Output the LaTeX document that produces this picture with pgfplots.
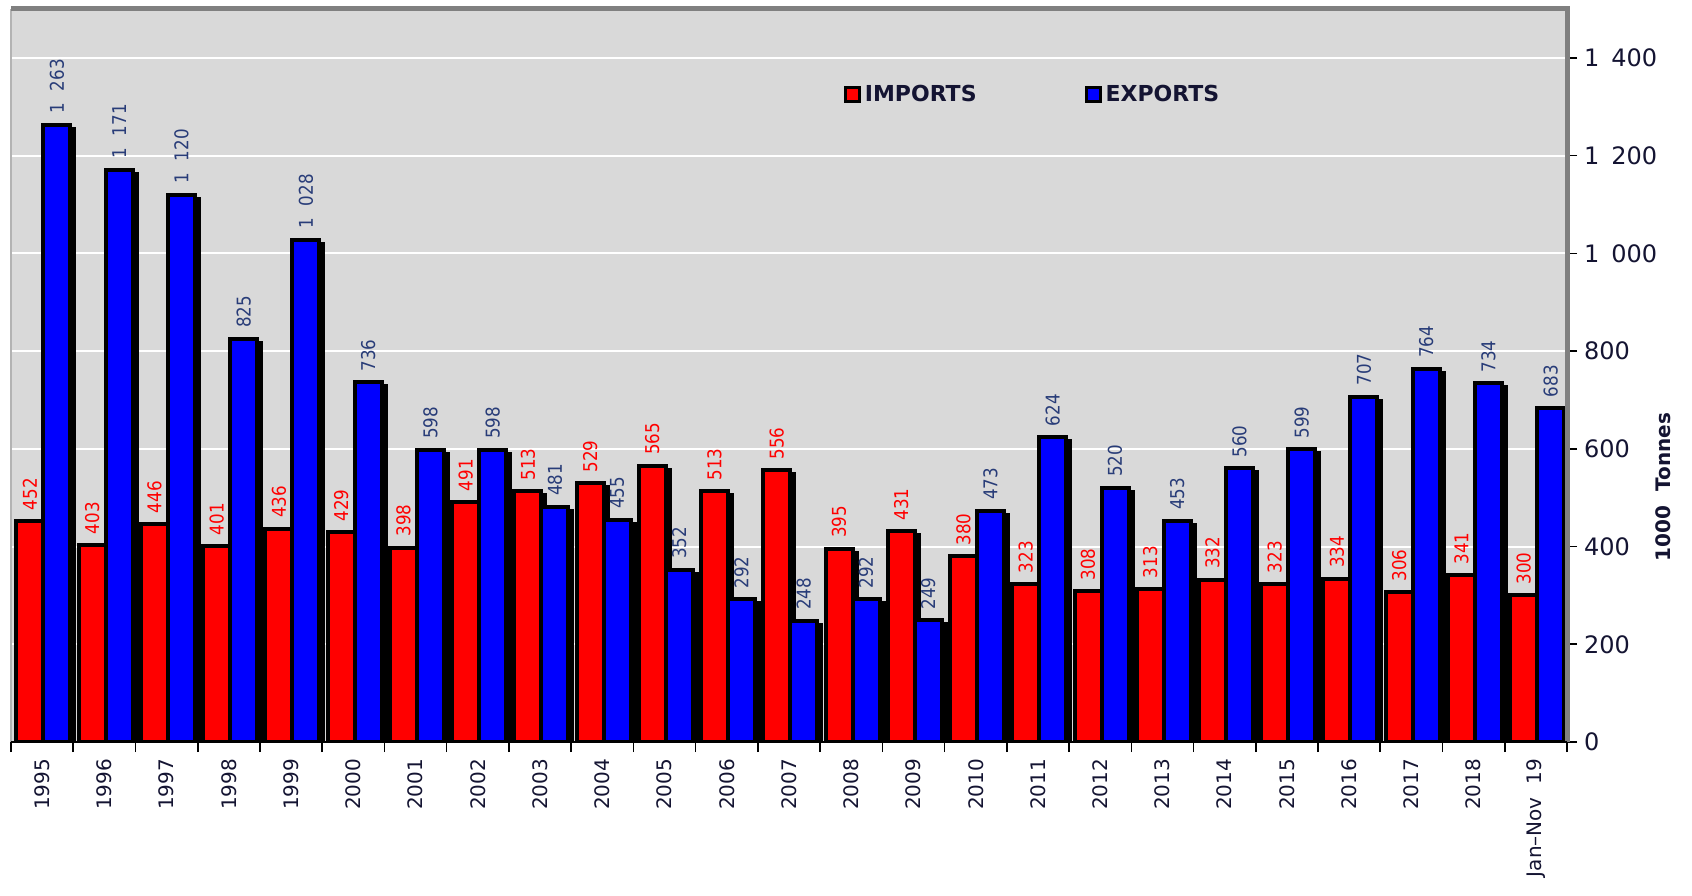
\documentclass[border=0pt]{standalone}
\usepackage{pgfplots}
\pgfplotsset{compat=1.18}
\usetikzlibrary{calc}
\usepackage{fontspec}
\setmainfont{DejaVu Sans}
\newfontfamily\valfont{DejaVu Sans}[FakeStretch=0.88]
\definecolor{bggray}{RGB}{217,217,217}
\definecolor{framegray}{RGB}{128,128,128}
\definecolor{expblue}{RGB}{40,60,120}
\definecolor{ticknavy}{RGB}{20,20,50}

\pgfplotstableread{
idx imp exp
0  452 1263
1  403 1171
2  446 1120
3  401 825
4  436 1028
5  429 736
6  398 598
7  491 598
8  513 481
9  529 455
10 565 352
11 513 292
12 556 248
13 395 292
14 431 249
15 380 473
16 323 624
17 308 520
18 313 453
19 332 560
20 323 599
21 334 707
22 306 764
23 341 734
24 300 683
}\tradedata

\begin{document}
\begin{tikzpicture}
\path[use as bounding box] (-5.5pt,-76.5pt) rectangle (840.5pt,371pt);
\begin{axis}[
  scale only axis, width=778pt, height=366.5pt,
  xmin=-0.5, xmax=24.5, ymin=0, ymax=1500,
  axis background/.style={fill=bggray},
  axis line style={draw=none},
  /pgf/number format/assume math mode=true,
  xtick={-0.5,0.5,...,24.5},
  x tick label as interval,
  xticklabels={1995,1996,1997,1998,1999,2000,2001,2002,2003,2004,2005,2006,2007,2008,2009,2010,2011,2012,2013,2014,2015,2016,2017,2018,Jan--Nov\ \ 19},
  x tick label style={rotate=90, anchor=east, font=\fontsize{10}{12}\selectfont, text=ticknavy},
  xtick pos=bottom, ytick pos=right,
  tick align=outside,
  major tick length=5pt,
  tick style={black, line width=0.8pt},
  ytick={0,200,...,1400},
  y tick label style={font=\fontsize{12}{14}\selectfont, text=ticknavy,
    /pgf/number format/1000 sep={\hspace{6pt}}},
  ymajorgrids, grid style={white, line width=1pt},
  legend style={at={(rel axis cs:0.535,0.883)}, anchor=west, draw=none, fill=none,
    font=\bfseries\fontsize{11}{13}\selectfont, text=ticknavy, legend columns=2,
    /tikz/every even column/.append style={column sep=52pt},
    inner sep=0pt},
  legend cell align=left,
]
% shadows
\addplot[ybar, bar width=13.5pt, bar shift=-6.1pt, fill=black, draw=black, line width=2pt,
  forget plot, transform canvas={shift={(2pt,-2pt)}}] table[x=idx,y=imp]{\tradedata};
\addplot[ybar, bar width=13.5pt, bar shift=7.4pt, fill=black, draw=black, line width=2pt,
  forget plot, transform canvas={shift={(2pt,-2pt)}}] table[x=idx,y=exp]{\tradedata};
% bars
\addplot[ybar, bar width=13.5pt, bar shift=-6.1pt, fill=red, draw=black, line width=2pt,
  legend image code/.code={\draw[line width=1.5pt] (0pt,-3.5pt) rectangle (7pt,3.5pt);},
  nodes near coords,
  /pgf/number format/1000 sep={\hspace{6pt}},
  every node near coord/.append style={xshift=-6.1pt, rotate=90, anchor=west, inner xsep=4.5pt, inner ysep=0pt,
    font=\valfont\fontsize{9.5}{10}\selectfont, text=red}]
  table[x=idx,y=imp]{\tradedata};
\addlegendentry{IMPORTS}
\addplot[ybar, bar width=13.5pt, bar shift=7.4pt, fill=blue, draw=black, line width=2pt,
  legend image code/.code={\draw[line width=1.5pt] (0pt,-3.5pt) rectangle (7pt,3.5pt);},
  nodes near coords,
  /pgf/number format/1000 sep={\hspace{6pt}},
  every node near coord/.append style={xshift=7.4pt, rotate=90, anchor=west, inner xsep=4.5pt, inner ysep=0pt,
    font=\valfont\fontsize{9.5}{10}\selectfont, text=expblue}]
  table[x=idx,y=exp]{\tradedata};
\addlegendentry{EXPORTS}
\end{axis}
\draw[framegray!60, line width=1pt] (current axis.south west) -- (current axis.north west);
\draw[framegray, line width=2.5pt] (current axis.north west) -- (current axis.north east) -- (current axis.south east);
\draw[black, line width=1pt] (current axis.south west) -- (current axis.south east);
\node[rotate=90, font=\bfseries\fontsize{10}{12}\selectfont, text=ticknavy]
  at ([xshift=48pt]$(current axis.south east)!0.348!(current axis.north east)$) {1000\ \ Tonnes};
\end{tikzpicture}
\end{document}
